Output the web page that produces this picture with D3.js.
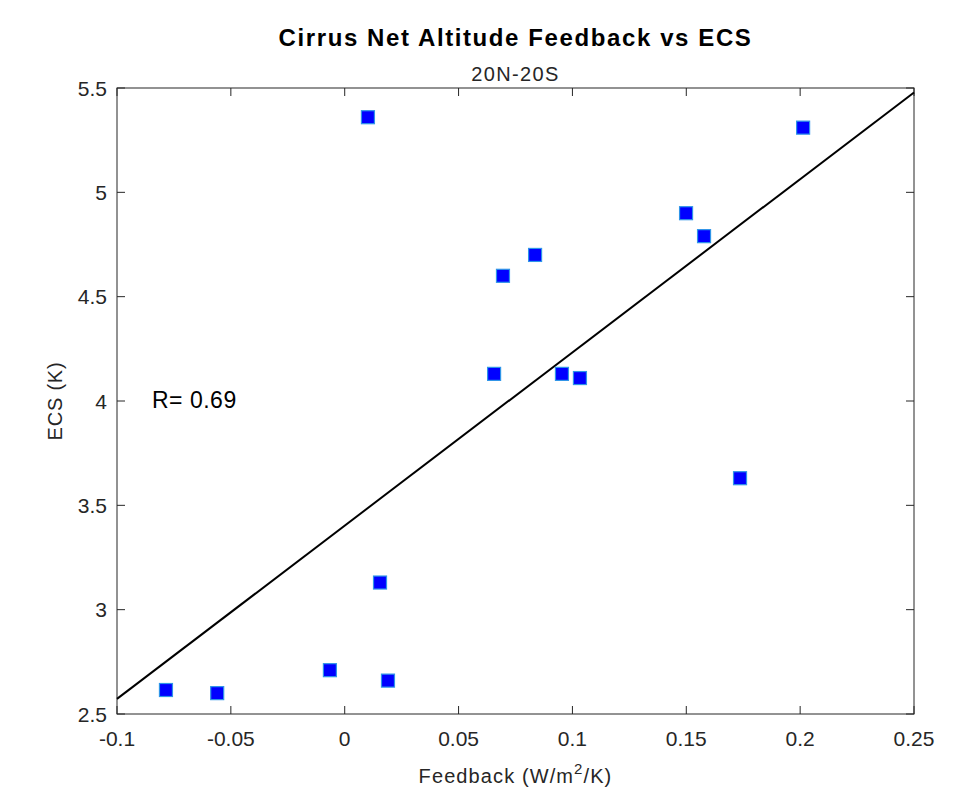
<!DOCTYPE html>
<html>
<head>
  <meta charset="utf-8">
  <title>Cirrus Net Altitude Feedback vs ECS</title>
  <script src="https://d3js.org/d3.v7.min.js"></script>
  <style>
    body { margin: 0; background: #fff; }
    svg { font-family: "Liberation Sans", Arial, Helvetica, sans-serif; }
  </style>
</head>
<body>
  <script>
    // values
    var feedback = [-0.0785, -0.056, -0.0065, 0.019, 0.0155, 0.0102, 0.0656, 0.0695, 0.0836, 0.0954, 0.1033, 0.1499, 0.1578, 0.1736, 0.2013];
    var ecs = [2.615, 2.60, 2.71, 2.66, 3.13, 5.36, 4.13, 4.60, 4.70, 4.13, 4.11, 4.90, 4.79, 3.63, 5.31];
    var xTicks = [-0.1, -0.05, 0, 0.05, 0.1, 0.15, 0.2, 0.25];
    var yTicks = [2.5, 3, 3.5, 4, 4.5, 5, 5.5];
    var rLabel = "R= 0.69";

    var width = 968, height = 793;
    var pLeft = 117, pRight = 914, pTop = 88, pBottom = 714;
    var axisColor = "#262626";

    var svg = d3.select("body").append("svg")
      .attr("width", width)
      .attr("height", height);

    var x = d3.scaleLinear().domain([-0.1, 0.25]).range([pLeft, pRight]);
    var y = d3.scaleLinear().domain([2.5, 5.5]).range([pBottom, pTop]);

    var fmt = function(d) { return String(+d.toFixed(2)); };

    // box and ticks
    svg.append("rect")
      .attr("x", pLeft).attr("y", pTop)
      .attr("width", pRight - pLeft).attr("height", pBottom - pTop)
      .attr("fill", "none").attr("stroke", axisColor).attr("stroke-width", 1);

    var tl = 8;
    xTicks.forEach(function(t) {
      svg.append("line").attr("x1", x(t)).attr("x2", x(t)).attr("y1", pBottom).attr("y2", pBottom - tl).attr("stroke", axisColor);
      svg.append("line").attr("x1", x(t)).attr("x2", x(t)).attr("y1", pTop).attr("y2", pTop + tl).attr("stroke", axisColor);
    });
    yTicks.forEach(function(t) {
      svg.append("line").attr("x1", pLeft).attr("x2", pLeft + tl).attr("y1", y(t)).attr("y2", y(t)).attr("stroke", axisColor);
      svg.append("line").attr("x1", pRight).attr("x2", pRight - tl).attr("y1", y(t)).attr("y2", y(t)).attr("stroke", axisColor);
    });

    svg.selectAll(".xt").data(xTicks).enter().append("text")
      .attr("x", function(d) { return x(d); })
      .attr("y", 746)
      .attr("text-anchor", "middle")
      .attr("font-size", 21)
      .attr("fill", axisColor)
      .text(fmt);

    svg.selectAll(".yt").data(yTicks).enter().append("text")
      .attr("x", pLeft - 10)
      .attr("y", function(d) { return y(d) + 7.5; })
      .attr("text-anchor", "end")
      .attr("font-size", 21)
      .attr("fill", axisColor)
      .text(fmt);

    // least-squares line
    var mx = d3.mean(feedback), my = d3.mean(ecs);
    var sxy = d3.sum(feedback, function(d, i) { return (d - mx) * (ecs[i] - my); });
    var sxx = d3.sum(feedback, function(d) { return (d - mx) * (d - mx); });
    var slope = sxy / sxx, icpt = my - slope * mx;
    var xr = x.domain();

    svg.append("line")
      .attr("x1", x(xr[0])).attr("y1", y(icpt + slope * xr[0]))
      .attr("x2", x(xr[1])).attr("y2", y(icpt + slope * xr[1]))
      .attr("stroke", "#000").attr("stroke-width", 2);

    // points
    var sz = 13;
    svg.selectAll(".pt").data(feedback).enter().append("rect")
      .attr("x", function(d) { return x(d) - sz / 2; })
      .attr("y", function(d, i) { return y(ecs[i]) - sz / 2; })
      .attr("width", sz).attr("height", sz)
      .attr("fill", "#0000ff")
      .attr("stroke", "#2f95e8")
      .attr("stroke-width", 1.2);

    // titles
    svg.append("text")
      .attr("x", (pLeft + pRight) / 2).attr("y", 46)
      .attr("text-anchor", "middle")
      .attr("font-size", 24).attr("font-weight", "bold")
      .attr("letter-spacing", 1.6)
      .text("Cirrus Net Altitude Feedback vs ECS");

    svg.append("text")
      .attr("x", (pLeft + pRight) / 2).attr("y", 81)
      .attr("text-anchor", "middle")
      .attr("font-size", 20).attr("fill", axisColor)
      .attr("letter-spacing", 1.4)
      .text("20N-20S");

    var xl = svg.append("text")
      .attr("x", (pLeft + pRight) / 2).attr("y", 783)
      .attr("text-anchor", "middle")
      .attr("font-size", 20).attr("fill", axisColor)
      .attr("letter-spacing", 1.1);
    xl.append("tspan").text("Feedback (W/m");
    xl.append("tspan").attr("dy", -9).attr("font-size", 15).text("2");
    xl.append("tspan").attr("dy", 9).text("/K)");

    svg.append("text")
      .attr("transform", "translate(62," + ((pTop + pBottom) / 2) + ") rotate(-90)")
      .attr("text-anchor", "middle")
      .attr("font-size", 20).attr("fill", axisColor)
      .attr("letter-spacing", 0.8)
      .text("ECS (K)");

    svg.append("text")
      .attr("x", 152).attr("y", 408)
      .attr("font-size", 23)
      .attr("letter-spacing", 0.5)
      .text(rLabel);
  </script>
</body>
</html>
